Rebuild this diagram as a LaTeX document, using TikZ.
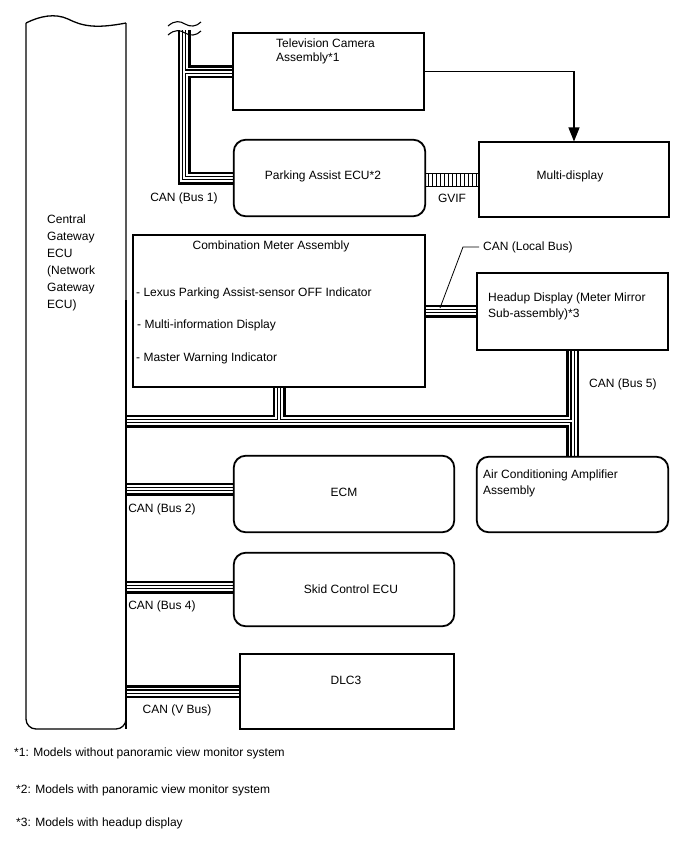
\documentclass[tikz,border=0pt]{standalone}
\usepackage{fontspec}
\setmainfont{Liberation Sans}
\usetikzlibrary{arrows.meta}

\begin{document}
\begin{tikzpicture}[x=1pt, y=-1pt,
  every node/.style={font=\fontsize{12}{14}\selectfont, inner sep=0pt},
  box/.style={draw, line width=1.1pt},
  rbox/.style={box, rounded corners=12pt},
  bus/.style={draw, line width=13pt,
    postaction={draw, white, line width=8pt},
    postaction={draw, black, line width=4.2pt},
    postaction={draw, white, line width=2pt}}]
  \useasboundingbox (0,0) rectangle (688,852);

  % Gateway ECU (tall box, wavy top)
  \node[minimum width=100pt, minimum height=706pt] (gw) at (76,376) {};
  \draw[line width=1.3pt] (26,23) .. controls (40,16) and (55,13) .. (68,19)
    .. controls (82,26) and (95,29) .. (126,23);
  \draw[line width=1.3pt, rounded corners=10pt] (126,23) -- (126,729) -- (26,729) -- (26,23);
  \node[anchor=north west, align=left, font=\fontsize{12}{17}\selectfont] (gwtext) at (47,215)
    {Central\\Gateway\\ECU\\(Network\\Gateway\\ECU)};

  % Boxes
  \node[box, minimum width=191pt, minimum height=77pt] (tv) at (328.5,71.5) {};
  \node[rbox, minimum width=191pt, minimum height=76pt] (pa) at (329.5,178) {};
  \node[box, minimum width=190pt, minimum height=75pt] (md) at (574,179.5) {};
  \node[box, minimum width=292pt, minimum height=152pt] (cm) at (279,311) {};
  \node[box, minimum width=191pt, minimum height=77pt] (hud) at (572.5,311.5) {};
  \node[rbox, minimum width=191pt, minimum height=75pt] (ac) at (572.5,494.5) {};
  \node[rbox, minimum width=220pt, minimum height=76pt] (ecm) at (344,494) {};
  \node[rbox, minimum width=220pt, minimum height=73pt] (skid) at (344,589.5) {};
  \node[box, minimum width=214pt, minimum height=75pt] (dlc) at (347,691.5) {};

  % CAN buses
  \coordinate (b1top) at (184,30);
  \draw[bus] (b1top) |- (pa.west) (b1top |- tv.west) -- (tv.west);
  \coordinate (b5) at (126,421);
  \draw[bus] (hud.south) -- (ac.north) (b5) -- (b5 -| hud.south)
    (cm.south) -- (cm.south |- b5);
  \draw[bus] (cm.east) -- (cm.east -| hud.west);
  \coordinate (b2) at ([yshift=5pt]ecm.west);
  \draw[bus] (b2 -| gw.east) -- (b2);
  \coordinate (b4) at ([yshift=2.5pt]skid.west);
  \draw[bus] (b4 -| gw.east) -- (b4);
  \draw[bus] (dlc.west -| gw.east) -- (dlc.west);

  % redraw borders over bus ends
  \draw[box] (tv.north west) rectangle (tv.south east);
  \draw[box] (md.north west) rectangle (md.south east);
  \draw[box] (cm.north west) rectangle (cm.south east);
  \draw[box] (hud.north west) rectangle (hud.south east);
  \draw[box] (dlc.north west) rectangle (dlc.south east);
  \draw[box, rounded corners=12pt] (pa.north west) rectangle (pa.south east);
  \draw[box, rounded corners=12pt] (ac.north west) rectangle (ac.south east);
  \draw[box, rounded corners=12pt] (ecm.north west) rectangle (ecm.south east);
  \draw[box, rounded corners=12pt] (skid.north west) rectangle (skid.south east);
  \draw[line width=1.3pt] (126,300) -- (126,729);

  % Break marks at top of Bus 1
  \draw[line width=1.1pt] (168,26) .. controls (175,20) and (180,21) .. (185,24)
    .. controls (190,27) and (196,27) .. (201,22);
  \draw[line width=1.1pt] (168,35) .. controls (175,29) and (180,30) .. (185,33)
    .. controls (190,36) and (196,36) .. (201,31);

  % GVIF link
  \draw[line width=1pt] (pa.east |- 0,173) -- (md.west |- 0,173)
    (pa.east |- 0,186) -- (md.west |- 0,186);
  \foreach \x in {428,432,...,476}
    \draw[line width=1pt] (\x,173) -- (\x,186);

  % Camera to display
  \draw[line width=1.1pt, -{Triangle[length=14pt,width=11pt]}] (tv.east) -| (md.north);

  % Box texts
  \node[anchor=west, align=left] (tvtext) at (276,51) {Television Camera\\Assembly*1};
  \node (patext) at (323,176) {Parking Assist ECU*2};
  \node (mdtext) at (570,176) {Multi-display};
  \node (cmtitle) at (271,246) {Combination Meter Assembly};
  \node[anchor=west] (cm1) at (136,293) {- Lexus Parking Assist-sensor OFF Indicator};
  \node[anchor=west] (cm2) at (137,325) {- Multi-information Display};
  \node[anchor=west] (cm3) at (136,358) {- Master Warning Indicator};
  \node[anchor=west, align=left, font=\fontsize{12}{16}\selectfont] (hudtext) at (488,306)
    {Headup Display (Meter Mirror\\Sub-assembly)*3};
  \node[anchor=west, align=left, font=\fontsize{12}{16}\selectfont] (actext) at (483,483)
    {Air Conditioning Amplifier\\Assembly};
  \node (ecmtext) at (344,492) {ECM};
  \node (skidtext) at (351,589) {Skid Control ECU};
  \node (dlctext) at (346,680) {DLC3};

  % Bus labels
  \node (l1) at (184,198) {CAN (Bus 1)};
  \node (lgvif) at (452,198) {GVIF};
  \node[anchor=west] (llocal) at (483,247) {CAN (Local Bus)};
  \coordinate (lk1) at (463,247);
  \coordinate (lk2) at (440,308);
  \draw[line width=0.8pt] ([xshift=-4pt]llocal.west) -- (lk1) -- (lk2);
  \node[anchor=west] (l5) at (589,384) {CAN (Bus 5)};
  \node (l2) at (162,509) {CAN (Bus 2)};
  \node (l4) at (162,606) {CAN (Bus 4)};
  \node (lv) at (177,710) {CAN (V Bus)};

  % Notes
  \node[anchor=west] (n1) at (14,753) {*1: Models without panoramic view monitor system};
  \node[anchor=west] (n2) at (16,790) {*2: Models with panoramic view monitor system};
  \node[anchor=west] (n3) at (16,823) {*3: Models with headup display};
\end{tikzpicture}
\end{document}
